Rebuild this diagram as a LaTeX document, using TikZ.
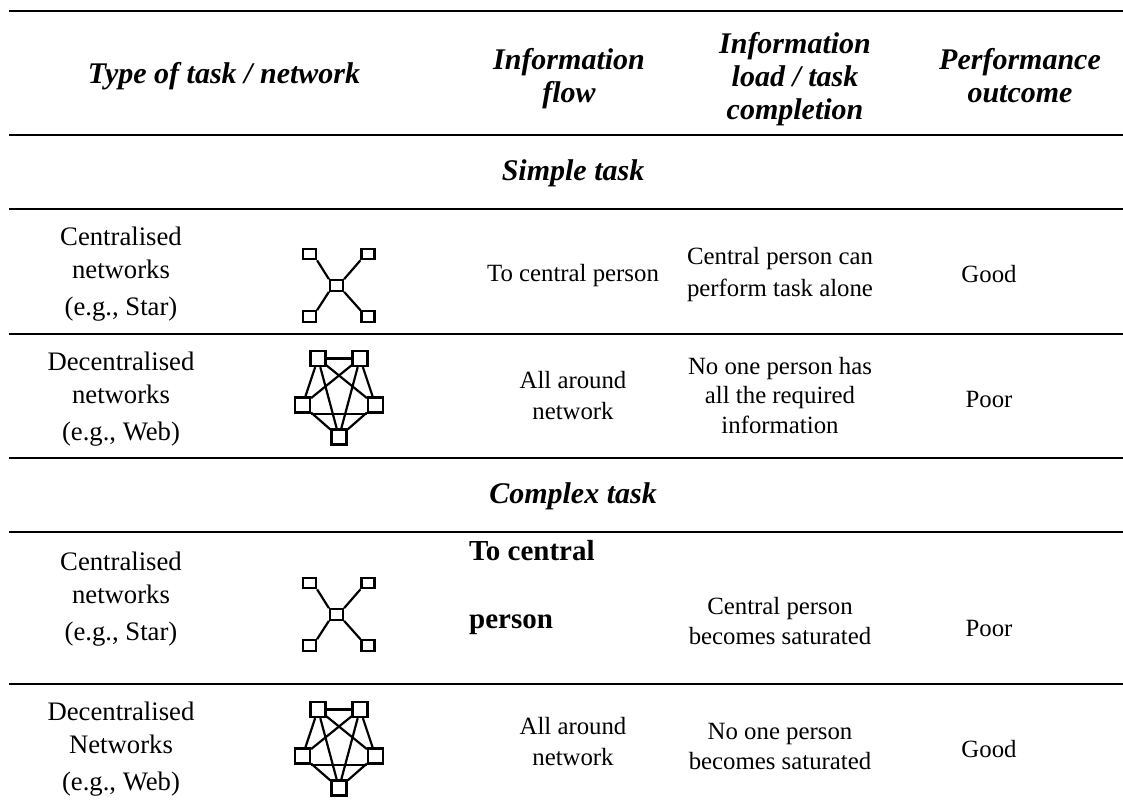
\documentclass[tikz,border=0pt]{standalone}
\usepackage{fontspec}
\setmainfont{Liberation Serif}

% one star network: a hub square with four spokes
\newcommand\starnet[2]{%
  \begin{scope}[shift={(0,#2)}]
    \node[sq] (#1c)  at (336.5,285.5) {};
    \node[sq] (#1tl) at (309.5,254)   {};
    \node[sq] (#1tr) at (368,254)     {};
    \node[sq] (#1bl) at (309.5,316.5) {};
    \node[sq] (#1br) at (368,316.5)   {};
    \draw[link] (#1c.north west) -- (#1tl.south east);
    \draw[link] (#1c.north east) -- (#1tr.south west);
    \draw[link] (#1c.south west) -- (#1bl.north east);
    \draw[link] (#1c.south east) -- (#1br.north west);
  \end{scope}}

% one web network: five squares, every pair linked
\newcommand\webnet[2]{%
  \begin{scope}[shift={(0,#2)}]
    \node[wsq] (#1tl) at (318,358.5)   {};
    \node[wsq] (#1tr) at (360,358.5)   {};
    \node[wsq] (#1l)  at (302.5,405)   {};
    \node[wsq] (#1r)  at (375.5,405)   {};
    \node[wsq] (#1b)  at (339,437)     {};
    \draw[link] (#1tl) -- (#1tr);
    \draw[link] (#1tl) -- (#1l);
    \draw[link] (#1tl) -- (#1r);
    \draw[link] (#1tl) -- (#1b);
    \draw[link] (#1tr) -- (#1l);
    \draw[link] (#1tr) -- (#1r);
    \draw[link] (#1tr) -- (#1b);
    \draw[link] (#1l.south east) -- (#1r.south west);
    \draw[link] (#1l) -- (#1b);
    \draw[link] (#1r) -- (#1b);
  \end{scope}}

\begin{document}
\begin{tikzpicture}[x=1pt,y=-1pt,
  rule/.style={line width=2.8pt},
  label/.style={font=\fontsize{26.7}{30}\selectfont, anchor=base, inner sep=0pt},
  body/.style={font=\fontsize{24.8}{30}\selectfont, anchor=base, inner sep=0pt},
  head/.style={font=\fontsize{30}{33}\selectfont\bfseries\itshape, anchor=base, inner sep=0pt},
  boldtxt/.style={font=\fontsize{29}{30}\selectfont\bfseries, anchor=base west, inner sep=0pt},
  sq/.style={draw, line width=2.2pt, minimum width=13pt, minimum height=10.5pt, inner sep=0pt},
  wsq/.style={draw, line width=2.2pt, minimum size=15pt, inner sep=0pt},
  link/.style={line width=2.2pt}]

\fill[white] (0,0) rectangle (1123,804);
\useasboundingbox (0,0) rectangle (1123,804);

% table rules
\draw[rule] (9,11)  -- (1123,11);
\draw[rule] (9,135) -- (1123,135);
\draw[rule] (9,209) -- (1123,209);
\draw[rule] (9,334) -- (1123,334);
\draw[rule] (9,458) -- (1123,458);
\draw[rule] (9,532) -- (1123,532);
\draw[rule] (9,684) -- (1123,684);

% column heads
\node[head] (h1)  at (224,83)  {Type of task / network};
\node[head] (h2a) at (569,69)  {Information};
\node[head] (h2b) at (569,102) {flow};
\node[head] (h3a) at (795,53)  {Information};
\node[head] (h3b) at (795,86)  {load / task};
\node[head] (h3c) at (795,119) {completion};
\node[head] (h4a) at (1020,69) {Performance};
\node[head] (h4b) at (1020,102){outcome};

% section heads
\node[head] (simple)  at (573,180) {Simple task};
\node[head] (complex) at (573,503) {Complex task};

% simple task, star
\node[label] (r1a) at (121,245) {Centralised};
\node[label] (r1b) at (121,278) {networks};
\node[label] (r1c) at (121,315) {(e.g., Star)};
\starnet{sa}{0}
\node[body] (r1f) at (573,281) {To central person};
\node[body] (r1l1) at (780,264) {Central person can};
\node[body] (r1l2) at (780,296) {perform task alone};
\node[body] (r1o) at (989,282) {Good};

% simple task, web
\node[label] (r2a) at (121,370) {Decentralised};
\node[label] (r2b) at (121,403) {networks};
\node[label] (r2c) at (121,440) {(e.g., Web)};
\webnet{wa}{0}
\node[body] (r2f1) at (573,388) {All around};
\node[body] (r2f2) at (573,419) {network};
\node[body] (r2l1) at (780,374) {No one person has};
\node[body] (r2l2) at (780,403) {all the required};
\node[body] (r2l3) at (780,433) {information};
\node[body] (r2o) at (989,407) {Poor};

% complex task, star
\node[label] (r3a) at (121,570) {Centralised};
\node[label] (r3b) at (121,603) {networks};
\node[label] (r3c) at (121,640) {(e.g., Star)};
\starnet{sb}{329}
\node[boldtxt] (r3f1) at (469,560) {To central};
\node[boldtxt] (r3f2) at (469,628) {person};
\node[body] (r3l1) at (780,614) {Central person};
\node[body] (r3l2) at (780,644) {becomes saturated};
\node[body] (r3o) at (989,636) {Poor};

% complex task, web
\node[label] (r4a) at (121,720) {Decentralised};
\node[label] (r4b) at (121,753) {Networks};
\node[label] (r4c) at (121,790) {(e.g., Web)};
\webnet{wb}{351}
\node[body] (r4f1) at (573,734) {All around};
\node[body] (r4f2) at (573,765) {network};
\node[body] (r4l1) at (780,739) {No one person};
\node[body] (r4l2) at (780,769) {becomes saturated};
\node[body] (r4o) at (989,757) {Good};

\end{tikzpicture}
\end{document}
